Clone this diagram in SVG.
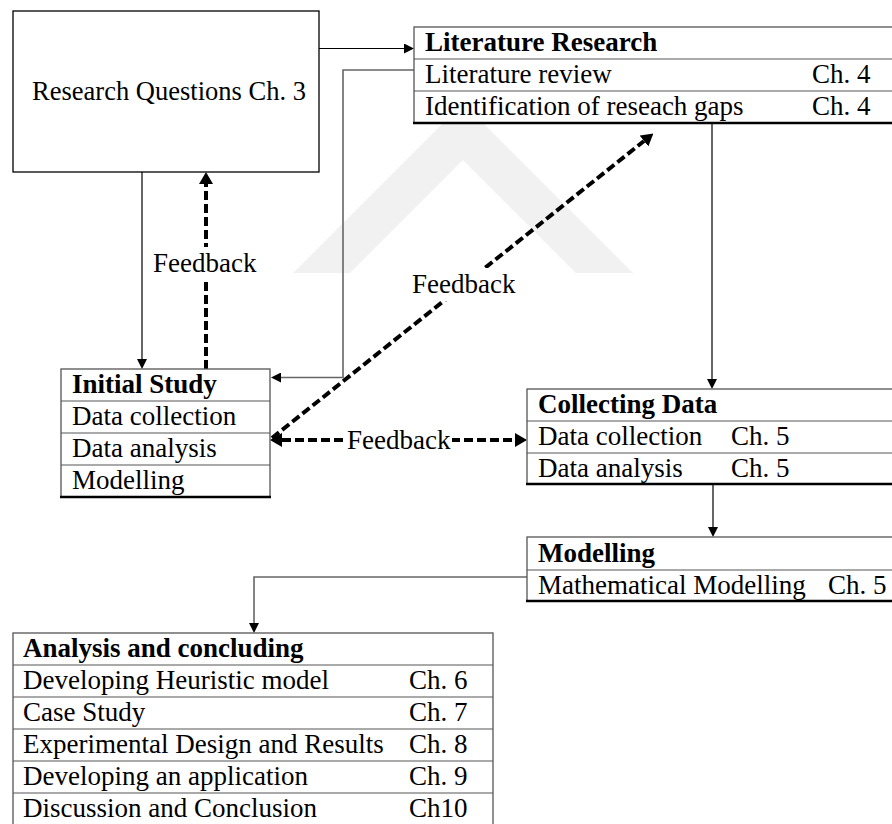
<svg xmlns="http://www.w3.org/2000/svg" width="892" height="824" viewBox="0 0 892 824">
<defs>
<style>
.bg { fill: #ffffff; }
.wm { fill: #f1f1f1; }
.box { fill: #ffffff; stroke: #555; stroke-width: 1.3; }
.div { stroke: #555; stroke-width: 1; }
.bot { stroke: #000; stroke-width: 2.4; }
.t { font-family: "Liberation Serif", "Times New Roman", serif; font-size: 27px; fill: #000; }
.b { font-weight: bold; }
.thin { stroke: #000; stroke-width: 1.2; fill: none; }
.gray { stroke: #666; stroke-width: 1.6; fill: none; }
.dash { stroke: #000; stroke-width: 4; stroke-dasharray: 9 4; fill: none; }
.lbl { fill: #ffffff; }
</style>
<marker id="a1" markerUnits="userSpaceOnUse" markerWidth="10" markerHeight="10" viewBox="0 0 10 10" refX="0" refY="5" orient="auto">
<path d="M0,0 L10,5 L0,10 z" fill="#000"/>
</marker>
<marker id="a2" markerUnits="userSpaceOnUse" markerWidth="12" markerHeight="14" viewBox="0 0 12 14" refX="0" refY="7" orient="auto-start-reverse">
<path d="M0,0 L12,7 L0,14 z" fill="#000"/>
</marker>
</defs>
<rect class="bg" x="0" y="0" width="892" height="824"/>
<g id="watermark">
<polygon class="wm" points="293,273 463,103 633,273 576,273 463,160 350,273"/>
</g>

<g id="connectors">
<path class="thin" d="M319,48.5 H404" marker-end="url(#a1)"/>
<path class="gray" d="M414,70 H343 V377.5 H281" marker-end="url(#a1)"/>
<path class="thin" d="M142,172 V359" marker-end="url(#a1)"/>
<path class="thin" d="M712,124 V379" marker-end="url(#a1)"/>
<path class="thin" d="M713,485 V527" marker-end="url(#a1)"/>
<path class="gray" d="M527,577 H254 V623" marker-end="url(#a1)"/>
<path class="dash" d="M206,369 V184" marker-end="url(#a2)"/>
<path class="dash" d="M272,438 L644,141" marker-end="url(#a2)"/>
<path class="dash" d="M282,440 H515" marker-start="url(#a2)" marker-end="url(#a2)"/>
<rect class="lbl" x="150" y="247" width="110" height="33"/>
<text class="t" x="153" y="272">Feedback</text>
<rect class="lbl" x="410" y="268" width="106" height="33"/>
<text class="t" x="412" y="293">Feedback</text>
<rect class="lbl" x="345" y="424" width="107" height="33"/>
<text class="t" x="347" y="449">Feedback</text>
</g>

<g id="research-questions">
<rect class="box" x="13" y="11" width="306" height="161" style="stroke:#000"/>
<text class="t" x="169" y="100" text-anchor="middle" style="font-size:26.5px">Research Questions Ch. 3</text>
</g>

<g id="literature-research">
<rect class="box" x="414" y="27" width="490" height="96"/>
<line class="div" x1="414" y1="59" x2="892" y2="59"/>
<line class="div" x1="414" y1="91" x2="892" y2="91"/>
<line class="bot" x1="413" y1="123" x2="892" y2="123"/>
<text class="t b" x="425" y="51">Literature Research</text>
<text class="t" x="425" y="83">Literature review</text>
<text class="t" x="812" y="83">Ch. 4</text>
<text class="t" x="425" y="115">Identification of reseach gaps</text>
<text class="t" x="812" y="115">Ch. 4</text>
</g>

<g id="initial-study">
<rect class="box" x="61" y="369" width="209" height="128"/>
<line class="div" x1="61" y1="401" x2="270" y2="401"/>
<line class="div" x1="61" y1="433" x2="270" y2="433"/>
<line class="div" x1="61" y1="465" x2="270" y2="465"/>
<line class="bot" x1="60" y1="497" x2="271" y2="497"/>
<text class="t b" x="72" y="393">Initial Study</text>
<text class="t" x="72" y="425">Data collection</text>
<text class="t" x="72" y="457">Data analysis</text>
<text class="t" x="72" y="489">Modelling</text>
</g>

<g id="collecting-data">
<rect class="box" x="527" y="389" width="380" height="95"/>
<line class="div" x1="527" y1="421" x2="892" y2="421"/>
<line class="div" x1="527" y1="453" x2="892" y2="453"/>
<line class="bot" x1="526" y1="484" x2="892" y2="484"/>
<text class="t b" x="538" y="413">Collecting Data</text>
<text class="t" x="538" y="445">Data collection</text>
<text class="t" x="731" y="445">Ch. 5</text>
<text class="t" x="538" y="477">Data analysis</text>
<text class="t" x="731" y="477">Ch. 5</text>
</g>

<g id="modelling">
<rect class="box" x="527" y="537" width="380" height="64"/>
<line class="div" x1="527" y1="570" x2="892" y2="570"/>
<line class="bot" x1="526" y1="601" x2="892" y2="601"/>
<text class="t b" x="538" y="562">Modelling</text>
<text class="t" x="538" y="594">Mathematical Modelling</text>
<text class="t" x="828" y="594">Ch. 5</text>
</g>

<g id="analysis-concluding">
<rect class="box" x="13" y="633" width="480" height="200"/>
<line class="div" x1="13" y1="665" x2="493" y2="665"/>
<line class="div" x1="13" y1="697" x2="493" y2="697"/>
<line class="div" x1="13" y1="729" x2="493" y2="729"/>
<line class="div" x1="13" y1="761" x2="493" y2="761"/>
<line class="div" x1="13" y1="793" x2="493" y2="793"/>
<text class="t b" x="23" y="657">Analysis and concluding</text>
<text class="t" x="23" y="689">Developing Heuristic model</text>
<text class="t" x="409" y="689">Ch. 6</text>
<text class="t" x="23" y="721">Case Study</text>
<text class="t" x="409" y="721">Ch. 7</text>
<text class="t" x="23" y="753">Experimental Design and Results</text>
<text class="t" x="409" y="753">Ch. 8</text>
<text class="t" x="23" y="785">Developing an application</text>
<text class="t" x="409" y="785">Ch. 9</text>
<text class="t" x="23" y="817">Discussion and Conclusion</text>
<text class="t" x="409" y="817">Ch10</text>
</g>
</svg>
